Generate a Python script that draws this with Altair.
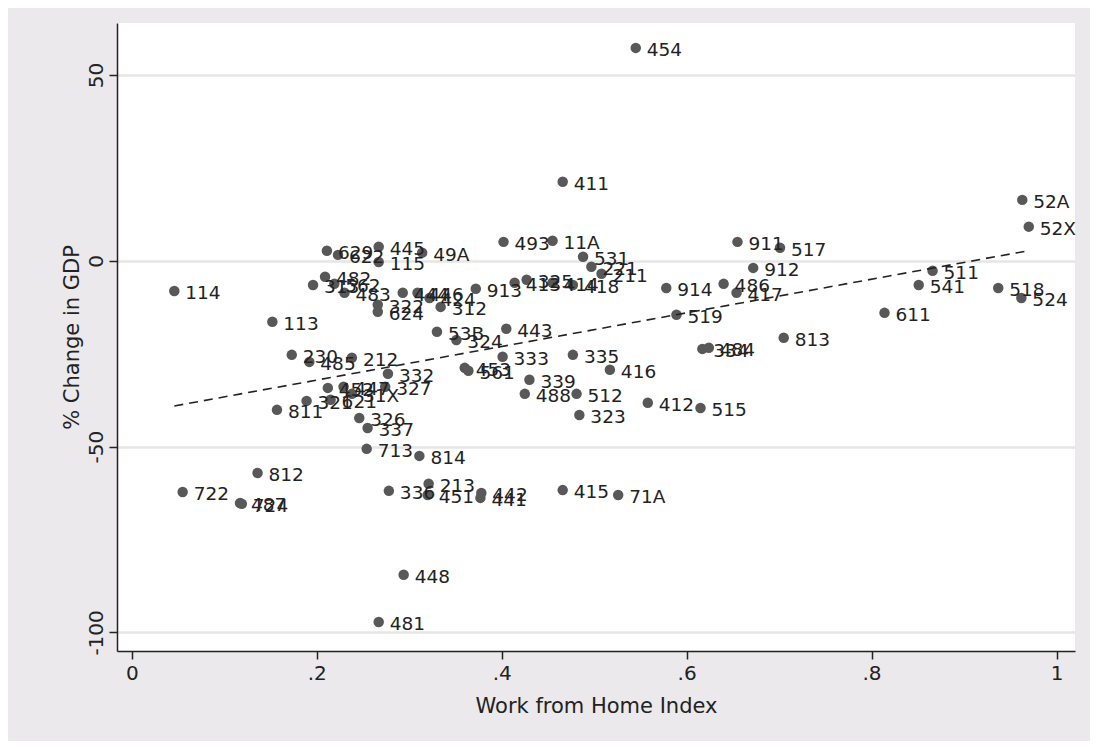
import altair as alt
import pandas as pd

labels = ["454", "411", "52A", "52X", "493", "11A", "911", "517", "912", "531",
          "221", "211", "418", "413", "325", "414", "913", "914", "486", "417",
          "519", "511", "541", "518", "524", "611", "813", "334", "484", "53B",
          "324", "443", "333", "335", "416", "453", "561", "339", "488", "512",
          "323", "412", "515", "415", "71A", "230", "485", "212", "332", "452",
          "447", "327", "321", "621", "31X", "811", "326", "337", "713", "814",
          "812", "722", "487", "724", "336", "213", "451", "442", "441", "448",
          "481", "113", "114", "629", "622", "445", "49A", "115", "482", "313",
          "562", "483", "322", "444", "446", "424", "312", "624"]

wfh = [0.545, 0.466, 0.963, 0.970, 0.402, 0.455, 0.655, 0.701, 0.672, 0.488,
       0.497, 0.508, 0.477, 0.414, 0.427, 0.455, 0.372, 0.578, 0.640, 0.654,
       0.589, 0.866, 0.851, 0.937, 0.962, 0.814, 0.705, 0.617, 0.624, 0.330,
       0.351, 0.405, 0.401, 0.477, 0.517, 0.360, 0.364, 0.430, 0.425, 0.481,
       0.484, 0.558, 0.615, 0.466, 0.526, 0.173, 0.192, 0.238, 0.277, 0.212,
       0.229, 0.274, 0.189, 0.215, 0.238, 0.157, 0.246, 0.255, 0.254, 0.311,
       0.136, 0.055, 0.117, 0.119, 0.278, 0.321, 0.320, 0.378, 0.377, 0.294,
       0.267, 0.152, 0.046, 0.211, 0.223, 0.267, 0.314, 0.267, 0.209, 0.196,
       0.219, 0.230, 0.266, 0.293, 0.309, 0.322, 0.334, 0.266]

gdp = [57.3, 21.3, 16.4, 9.2, 5.1, 5.4, 5.1, 3.5, -1.9, 1.1,
       -1.6, -3.5, -6.5, -5.9, -5.1, -5.9, -7.5, -7.3, -6.2, -8.6,
       -14.5, -2.7, -6.5, -7.3, -10.0, -14.0, -20.7, -23.7, -23.4, -19.1,
       -21.3, -18.3, -25.8, -25.3, -29.3, -28.8, -29.6, -32.0, -35.8, -35.8,
       -41.5, -38.2, -39.6, -61.7, -63.0, -25.3, -27.2, -26.1, -30.4, -34.2,
       -33.9, -33.9, -37.7, -37.4, -35.8, -40.1, -42.3, -45.0, -50.6, -52.5,
       -57.1, -62.2, -65.2, -65.4, -61.9, -60.0, -63.0, -62.5, -63.8, -84.5,
       -97.2, -16.4, -8.1, 2.7, 1.6, 3.8, 2.2, -0.3, -4.3, -6.5,
       -6.2, -8.6, -11.8, -8.6, -8.6, -10.0, -12.4, -13.7]

x_ticks = [0, 0.2, 0.4, 0.6, 0.8, 1]
y_ticks = [-100, -50, 0, 50]

df = pd.DataFrame({"label": labels, "wfh": wfh, "gdp": gdp})

FONT = "DejaVu Sans"
xs = alt.Scale(domain=[-0.016, 1.02], nice=False, zero=False)
ys = alt.Scale(domain=[-105, 64], nice=False, zero=False)

x_enc = alt.X("wfh:Q", scale=xs, title="Work from Home Index",
              axis=alt.Axis(values=x_ticks, grid=False,
                            labelExpr="replace(format(datum.value, '.1~f'), '0.', '.')",
                            labelFontSize=20, titleFontSize=21, labelPadding=4,
                            titlePadding=12, tickSize=8, tickWidth=1.5,
                            domainColor="#222", tickColor="#222", domainWidth=1.5,
                            labelColor="#222", titleColor="#222",
                            labelFont=FONT, titleFont=FONT, titleFontWeight="normal"))
y_enc = alt.Y("gdp:Q", scale=ys, title="% Change in GDP",
              axis=alt.Axis(values=y_ticks, grid=True, gridColor="#E6E6E6",
                            gridWidth=2.5, labelAngle=270, labelAlign="center",
                            labelBaseline="bottom",
                            labelExpr="'' + datum.value",
                            labelFontSize=20, titleFontSize=21, labelPadding=3,
                            titlePadding=4, tickSize=8, tickWidth=1.5,
                            domainColor="#222", tickColor="#222", domainWidth=1.5,
                            labelColor="#222", titleColor="#222",
                            labelFont=FONT, titleFont=FONT, titleFontWeight="normal"))

base = alt.Chart(df)

points = base.mark_circle(size=110, color="#585858", opacity=1).encode(x=x_enc, y=y_enc)

texts = base.mark_text(align="left", baseline="middle", dx=11, dy=2,
                       fontSize=18.5, font=FONT, color="#222").encode(
    x=alt.X("wfh:Q", scale=xs), y=alt.Y("gdp:Q", scale=ys), text="label:N")

fit = base.transform_regression("wfh", "gdp").mark_line(
    color="#222", strokeDash=[9, 6], strokeWidth=1.6).encode(
    x=alt.X("wfh:Q", scale=xs), y=alt.Y("gdp:Q", scale=ys))

chart = alt.layer(points, fit, texts).properties(
    width=958, height=628,
    autosize="none",
    padding={"left": 109, "top": 15, "right": 15, "bottom": 90},
    background="#EBE9EB",
).configure_view(fill="white", stroke=None)

chart.save("out.html", embed_options={"renderer": "svg", "actions": False})
